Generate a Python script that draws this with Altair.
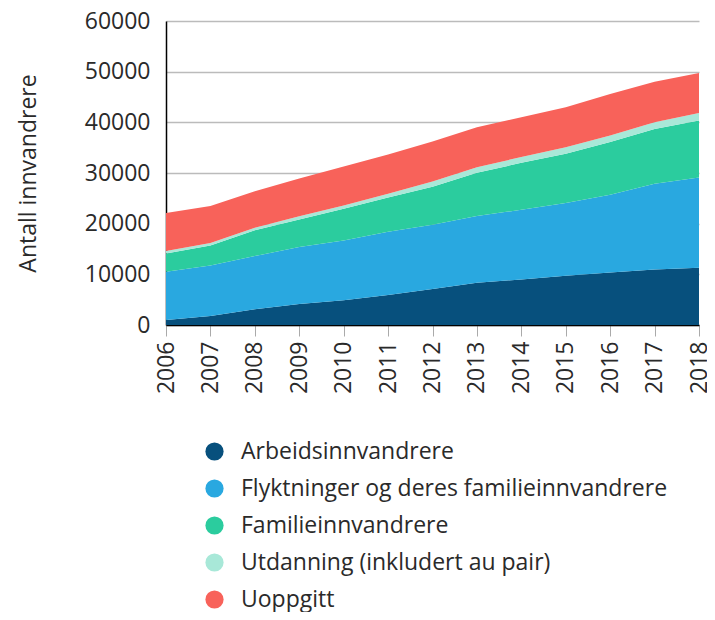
import altair as alt
import pandas as pd

years = list(range(2006, 2019))
categories = [
    "Arbeidsinnvandrere",
    "Flyktninger og deres familieinnvandrere",
    "Familieinnvandrere",
    "Utdanning (inkludert au pair)",
    "Uoppgitt",
]
arbeid = [1000, 1800, 3100, 4130, 4900, 5900, 7100, 8330, 9000, 9700, 10370, 10950, 11300]
flykt = [9500, 9950, 10500, 11270, 11800, 12500, 12700, 13170, 13750, 14400, 15330, 16950, 17800]
familie = [3600, 3950, 5100, 5400, 6250, 6750, 7500, 8550, 9250, 9700, 10400, 10800, 11250]
utdanning = [500, 500, 500, 650, 650, 750, 1000, 1100, 1150, 1300, 1300, 1300, 1500]
uoppgitt = [7500, 7300, 7200, 7450, 7700, 7750, 7900, 7900, 7850, 7900, 8200, 8000, 7900]
colors = ["#07507d", "#29a8e0", "#2bcc9e", "#a8e8d8", "#f8625a"]

series = [arbeid, flykt, familie, utdanning, uoppgitt]
rows = []
for ci, (cat, vals) in enumerate(zip(categories, series)):
    for y, v in zip(years, vals):
        rows.append({"year": y, "cat": cat, "value": v, "ord": ci})
df = pd.DataFrame(rows)

FONT = "Open Sans"
TXT = "#2a2a2a"
FS = 23

chart = alt.Chart(df).mark_area(interpolate="linear").encode(
    x=alt.X("year:Q",
            scale=alt.Scale(domain=[2006, 2018], nice=False, zero=False),
            axis=alt.Axis(values=years, format="d", labelAngle=270, title=None,
                          grid=False, domainColor="#000", domainWidth=1.5,
                          tickColor="#aaa", tickSize=11, labelFontSize=FS,
                          labelFontWeight="normal",
                          labelColor=TXT, labelFont=FONT, labelPadding=5)),
    y=alt.Y("value:Q", stack="zero",
            scale=alt.Scale(domain=[0, 60000], nice=False),
            axis=alt.Axis(values=[0, 10000, 20000, 30000, 40000, 50000, 60000],
                          format="d", title="Antall innvandrere", titleFontSize=FS,
                          titleFont=FONT, titleFontWeight="normal", titleColor=TXT,
                          titlePadding=44,
                          grid=True, gridColor="#bbb", gridWidth=1.5, ticks=False,
                          domainColor="#000", domainWidth=1.5, labelFontSize=FS,
                          labelFontWeight="normal",
                          labelColor=TXT, labelFont=FONT, labelPadding=16)),
    color=alt.Color("cat:N",
                    scale=alt.Scale(domain=categories, range=colors),
                    legend=alt.Legend(title=None, orient="none", legendX=37, legendY=419,
                                      symbolType="circle", symbolSize=330,
                                      symbolStrokeWidth=0, labelFontSize=FS,
                                      labelFontWeight="normal",
                                      labelFont=FONT, labelColor=TXT,
                                      rowPadding=13, labelOffset=15,
                                      labelLimit=600)),
    order=alt.Order("ord:Q", sort="ascending"),
).properties(
    width=533, height=304,
    autosize=alt.AutoSizeParams(type="none"),
    padding={"left": 158, "top": 13, "right": 8, "bottom": 287},
).configure_view(stroke=None)

chart.save("out.html", embed_options={"renderer": "svg", "actions": False})
